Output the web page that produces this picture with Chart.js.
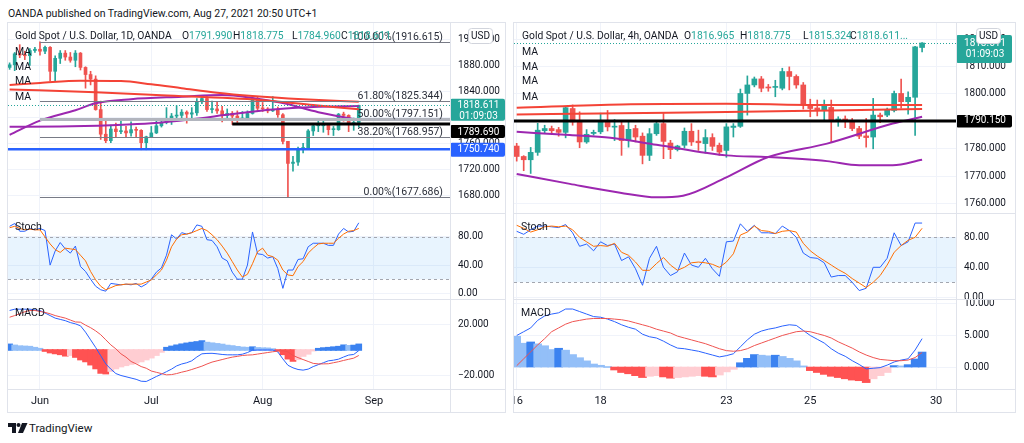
<!DOCTYPE html>
<html><head><meta charset="utf-8">
<script src="https://cdn.jsdelivr.net/npm/chart.js"></script>
<style>
html,body{margin:0;padding:0;background:#fff;width:1024px;height:443px;overflow:hidden;font-family:Roboto,"Noto Sans",sans-serif;color:#131722;}
canvas{position:absolute;}
.t{position:absolute;white-space:nowrap;font-size:10.5px;line-height:12px;color:#131722;}
.lg{font-size:10.3px;}
.v{color:#26a69a}
.frame{position:absolute;border:1px solid #e0e3eb;box-sizing:border-box;}
.hl{position:absolute;height:1px;background:#e0e3eb;}
.vl{position:absolute;width:1px;background:#e0e3eb;}
</style></head><body>
<div class="t" style="left:8px;top:8px;font-size:10.5px">OANDA published on TradingView.com, Aug 27, 2021 20:50 UTC+1</div>

<canvas id="lMain" width="497" height="190" style="left:8px;top:23px"></canvas>
<canvas id="lStoch" width="497" height="86" style="left:8px;top:213px"></canvas>
<canvas id="lMacd" width="497" height="113" style="left:8px;top:299px"></canvas>
<canvas id="rMain" width="501" height="190" style="left:514px;top:23px"></canvas>
<canvas id="rStoch" width="501" height="86" style="left:514px;top:213px"></canvas>
<canvas id="rMacd" width="501" height="113" style="left:514px;top:299px"></canvas>

<div class="frame" style="left:7px;top:22px;width:499px;height:391px"></div>
<div class="frame" style="left:513px;top:22px;width:503px;height:391px"></div>
<div class="hl" style="left:8px;top:213px;width:497px"></div>
<div class="hl" style="left:8px;top:299px;width:497px"></div>
<div class="hl" style="left:8px;top:389px;width:497px"></div>
<div class="vl" style="left:450px;top:23px;height:389px"></div>
<div class="hl" style="left:514px;top:213px;width:501px"></div>
<div class="hl" style="left:514px;top:299px;width:501px"></div>
<div class="hl" style="left:514px;top:389px;width:501px"></div>
<div class="vl" style="left:956px;top:23px;height:389px"></div>

<div class="t lg" style="left:15px;top:30px">Gold Spot / U.S. Dollar, 1D, OANDA</div>
<div class="t lg" style="left:182px;top:30px">O<span class="v">1791.990</span></div>
<div class="t lg" style="left:233px;top:30px">H<span class="v">1818.775</span></div>
<div class="t lg" style="left:292px;top:30px">L<span class="v">1784.960</span></div>
<div class="t lg" style="left:341px;top:30px">C<span class="v">1818.611</span></div>
<div class="t" style="left:15px;top:46px">MA</div>
<div class="t" style="left:15px;top:61px">MA</div>
<div class="t" style="left:15px;top:75px">MA</div>
<div class="t" style="left:15px;top:91px">MA</div>
<div class="t" style="left:15px;top:221px">Stoch</div>
<div class="t" style="left:15px;top:307px">MACD</div>

<div class="t lg" style="left:522px;top:30px">Gold Spot / U.S. Dollar, 4h, OANDA</div>
<div class="t lg" style="left:684px;top:30px">O<span class="v">1816.965</span></div>
<div class="t lg" style="left:740px;top:30px">H<span class="v">1818.775</span></div>
<div class="t lg" style="left:803px;top:30px">L<span class="v">1815.324</span></div>
<div class="t lg" style="left:850px;top:30px">C<span class="v">1818.611...</span></div>
<div class="t" style="left:522px;top:46px">MA</div>
<div class="t" style="left:522px;top:61px">MA</div>
<div class="t" style="left:522px;top:75px">MA</div>
<div class="t" style="left:522px;top:91px">MA</div>
<div class="t" style="left:521px;top:221px">Stoch</div>
<div class="t" style="left:521px;top:307px">MACD</div>

<svg style="position:absolute;left:8px;top:423px" width="20" height="10" viewBox="0 0 20 10">
<path d="M0 0h8v10h-4v-6h-4z" fill="#131722"/><circle cx="10.5" cy="2" r="2" fill="#131722"/><path d="M14 0h5.5l-4.5 10h-5z" fill="#131722"/></svg>
<div class="t" style="left:29px;top:421px;font-size:11.5px;line-height:14px">TradingView</div>

<script>
// ---------------- DATA: daily (1D) ----------------
const dailyDates = ['05-24','05-25','05-26','05-27','05-28','05-31',
'06-01','06-02','06-03','06-04','06-07','06-08','06-09','06-10','06-11','06-14','06-15','06-16','06-17','06-18','06-21','06-22','06-23','06-24','06-25','06-28','06-29','06-30',
'07-01','07-02','07-05','07-06','07-07','07-08','07-09','07-12','07-13','07-14','07-15','07-16','07-19','07-20','07-21','07-22','07-23','07-26','07-27','07-28','07-29','07-30',
'08-02','08-03','08-04','08-05','08-06','08-09','08-10','08-11','08-12','08-13','08-16','08-17','08-18','08-19','08-20','08-23','08-24','08-25','08-26','08-27'];
const dailyOpen  = [1877,1881,1898,1896,1895,1903,1905,1902,1908,1871,1891,1899,1893,1888,1899,1877,1866,1859,1812,1774,1764,1782,1778,1779,1776,1781,1780,1761,1770,1776,1787,1792,1796,1802,1803,1808,1805,1807,1824,1829,1812,1813,1810,1803,1806,1802,1797,1799,1806,1829,1814,1813,1810,1812,1804,1763,1729,1731,1752,1753,1779,1787,1787,1788,1781,1781,1805,1803,1790,1791.99];
const dailyHigh  = [1884,1900,1912,1902,1906,1908,1916.615,1910,1909,1895,1903,1903,1900,1903,1900,1878,1871,1864,1825,1794,1788,1791,1795,1786,1793,1785,1781,1771,1786,1795,1795,1815,1806,1818,1812,1810,1815,1829,1834,1832,1825,1823,1817,1813,1809,1810,1809,1810,1832,1832,1823,1815,1832,1816,1806,1763,1740,1754,1760,1781,1790,1795,1794,1790,1786,1806,1808,1804,1799,1818.775];
const dailyLow   = [1874,1872,1892,1889,1880,1900,1896,1898,1856,1855,1883,1888,1885,1878,1873,1845,1850,1811,1766,1761,1761,1770,1775,1769,1771,1770,1750,1750,1770,1775,1785,1790,1789,1796,1797,1791,1799,1803,1821,1809,1807,1806,1793,1797,1789,1792,1795,1796,1805,1810,1809,1807,1809,1800,1759,1677.686,1717,1726,1745,1750,1772,1778,1777,1773,1772,1780,1794,1778,1780,1784.96];
const dailyClose = [1881,1898,1896,1895,1903,1905,1902,1908,1871,1891,1899,1893,1888,1899,1877,1866,1859,1812,1774,1764,1782,1778,1779,1776,1781,1780,1761,1770,1776,1787,1792,1796,1802,1803,1808,1805,1807,1824,1829,1812,1813,1810,1803,1806,1802,1797,1799,1806,1829,1814,1813,1810,1812,1804,1763,1729,1731,1752,1753,1779,1787,1787,1788,1781,1781,1805,1803,1790,1792,1818.611];
const dailyMonthTicks  = [6, 28, 50, 72];
const dailyMonthLabels = ['Jun', 'Jul', 'Aug', 'Sep'];
// moving averages read at sample bars: [bar index, price]
const dailyMaRedA  = [[0,1850],[6,1853],[14,1856.5],[22,1856],[28,1851],[34,1845],[41,1838],[48,1833],[58,1828],[69,1824]];
const dailyMaRedB  = [[0,1843],[17,1838.6],[30,1834],[49.5,1826.7],[60,1819],[69,1812.4]];
const dailyMaPurA  = [[0,1773],[6,1795],[13,1811],[17,1821.7],[24,1828],[34,1831.8],[42,1834.5],[48,1830],[54,1822],[61,1808],[69,1796]];
const dailyMaPurB  = [[0,1785.6],[10,1786],[20,1788],[28,1790.8],[36,1797],[44,1805],[52,1812],[60,1816],[69,1817.5]];
const dailyPriceTicks = [1680,1720,1760,1800,1840,1880,1920];
const fibLabels = ['100.00%','61.80%','50.00%','38.20%','0.00%'];
const fibPrices = [1916.615,1825.344,1797.151,1768.957,1677.686];
const fibStartBar = 6;
const dailySupport = 1750.740;
const dailyPivot = 1789.690, dailyPivotStartBar = 44;
const lastPrice = 1818.611, countdown = '01:09:03';
const dailyStochK = [95,99,88,88,92,90,92,89,40,60,72,63,57,67,38,31,20,10,5,3,14,13,12,13,12,14,9,13,20,30,36,54,83,77,86,84,86,97,95,76,75,66,50,46,30,20,20,40,87,56,55,50,52,35,7,33,33,48,49,66,71,71,71,68,68,84,92,87,88,100];
const dailyStochD = [93,95,92,90,91,90,90,80,70,62,58,64,63,62,54,46,31,19,10,5,8,11,12,13,13,13,13,16,19,26,33,47,66,77,83,84,86,89,92,89,83,76,67,57,45,33,23,27,42,59,64,54,52,47,33,26,25,38,45,57,64,70,71,71,71,78,84,88,89,92];
const dailyMacd   = [31,32,32,32,32,31.5,31,29,27,25,24,23,21.5,20.5,19,14,8,2,-4.5,-10.9,-15,-18.5,-20,-21,-22,-23,-24.5,-24.7,-22.8,-20.8,-19,-17,-15,-12.5,-11,-10,-8.5,-5.5,-3,-2.7,-2.6,-3,-3.5,-3.8,-3.8,-3.8,-3.3,-2,-0.2,0,0,0,0,-1.5,-7,-12,-14,-15.3,-15.8,-15,-13,-11.5,-10,-8.5,-8,-7.2,-5.5,-4,-3.5,-0.5];
const dailySignal = [25.7,27,28.5,30,31,31,30.2,29.5,28.4,27,26,25,23.5,22,21.8,19.5,17.5,15,12,8,4,0.9,-3,-5.6,-9,-10.9,-13,-14.3,-16.5,-17.5,-18.5,-19.5,-19.3,-18.5,-17.4,-16.5,-15.3,-14,-12.7,-11,-9.5,-8.5,-7.5,-6.5,-5.6,-5,-4.3,-4,-3.8,-3.2,-2.6,-2,-1.4,-0.9,-0.5,-1.5,-4.3,-6,-7.5,-9,-10.5,-10.9,-10.9,-10.8,-10,-9.2,-8.2,-7.3,-6.4,-4.3];
const dailyHist   = [4.4,3.6,3,2.8,2.6,1.8,1,-0.8,-2,-2.7,-3.4,-4.5,-4.0,-5.5,-7.5,-9,-11.5,-14.5,-18,-18.5,-16.5,-14.5,-13,-12,-11,-10,-9,-7.5,-6,-4,-1.5,1.8,2.8,3.7,4.5,5.2,5.8,6.3,7,5.8,5.3,4.8,4.3,3.5,3.1,2.5,2,1.8,2.2,1.6,1.4,1.3,0.7,-0.5,-3.4,-6.8,-8.6,-7.3,-4.7,-3,-0.5,1,1.5,1.8,2.2,2.6,3.7,3.3,3.5,4.4];
const stochTicks = [0, 40, 80];
const dailyMacdTicks = [-20, 20];

// ---------------- DATA: 4h ----------------
const h4Open  = [1781.0,1777.2,1776.0,1778.7,1786.6,1787.4,1787.0,1786.0,1794.7,1789.8,1782.5,1785.6,1786.2,1789.8,1787.9,1788.5,1783.0,1787.4,1784.6,1777.6,1785.5,1789.2,1782.1,1779.7,1781.3,1786.4,1782.8,1781.9,1784.1,1781.3,1779.4,1787.8,1788.2,1800.2,1803.3,1805.5,1802.4,1802.4,1802.1,1808.2,1806.4,1803.3,1796.0,1794.9,1794.2,1795.1,1790.4,1790.9,1790.4,1787.4,1784.7,1784.3,1792.3,1792.3,1794.0,1800.2,1797.2,1798.8,1816.965];
const h4High  = [1782.0,1777.5,1780.5,1789.3,1788.6,1788.3,1787.8,1795.5,1796.0,1793.5,1787.0,1786.8,1793.0,1794.0,1790.7,1790.4,1790.4,1788.6,1785.8,1787.4,1790.4,1792.9,1783.1,1781.3,1787.6,1789.2,1786.8,1787.0,1785.5,1782.1,1789.2,1789.2,1801.8,1806.6,1806.2,1806.4,1803.5,1805.0,1809.4,1809.9,1807.0,1804.2,1798.1,1797.8,1797.8,1797.8,1791.7,1792.0,1791.1,1788.2,1791.1,1798.4,1793.0,1794.9,1801.1,1805.4,1800.8,1817.4,1818.775];
const h4Low   = [1775.5,1772.0,1771.0,1777.6,1785.8,1785.6,1784.6,1784.0,1788.6,1780.4,1782.0,1785.0,1785.5,1786.5,1783.0,1777.6,1780.6,1782.5,1774.5,1775.7,1784.9,1776.4,1776.4,1779.2,1780.3,1781.2,1779.4,1778.4,1779.4,1777.6,1776.9,1784.3,1787.8,1792.3,1802.6,1800.8,1801.0,1799.0,1801.5,1801.5,1802.1,1794.5,1791.7,1792.0,1790.4,1782.5,1788.2,1787.7,1786.6,1783.7,1780.6,1780.0,1789.5,1791.7,1793.5,1794.8,1792.6,1784.9,1815.324];
const h4Close = [1777.2,1776.0,1778.7,1786.8,1787.4,1786.6,1786.0,1795.0,1789.8,1782.5,1785.3,1786.0,1789.8,1788.0,1788.2,1783.0,1787.1,1784.3,1777.6,1785.5,1789.2,1782.7,1779.7,1781.0,1786.4,1782.5,1782.2,1784.1,1780.9,1778.8,1788.0,1788.3,1800.2,1803.3,1805.5,1802.1,1802.2,1802.6,1808.2,1806.4,1803.3,1796.0,1794.7,1794.3,1796.0,1790.4,1790.9,1790.2,1787.4,1784.6,1784.1,1792.3,1791.7,1794.1,1800.2,1797.2,1798.8,1817.2,1818.611];
const h4DayTicks  = [0, 12, 30, 42, 60];
const h4DayLabels = ['16', '18', '23', '25', '30'];
const h4MaRedA = [[0,1795],[15,1796.2],[30,1796.4],[45,1796],[58,1796]];
const h4MaRedB = [[0,1792.5],[15,1793],[30,1793.4],[45,1794],[58,1794.5]];
const h4MaPurA = [[0,1786.2],[7.6,1785],[13.4,1784],[20,1781.5],[30,1777.6],[36,1777],[44.4,1775.5],[49,1774],[53.8,1774],[58,1776]];
const h4MaPurB = [[0,1770.8],[7.6,1767.2],[14.8,1764],[20,1762.3],[23.8,1762.9],[30,1769.6],[36,1777],[44.4,1781.9],[53.8,1789.2],[58,1791.7]];
const h4PriceTicks = [1760,1770,1780,1790,1800,1810,1820];
const h4Pivot = 1790.150;
const h4StochK = [88,84,90,95,95,94,93,97,86,68,71,62,74,69,71,49,54,38,16,52,68,40,29,34,59,43,40,52,38,28,74,75,98,88,96,86,86,85,95,89,80,59,53,52,46,27,29,29,20,9,12,40,40,52,86,69,74,99,99];
const h4StochD = [96,92,87,90,94,95,94,95,90,80,74,68,69,68,72,60,56,47,36,36,45,53,43,36,40,46,47,46,44,40,47,58,83,87,95,89,88,85,88,89,87,72,62,55,49,43,37,32,25,19,13,20,29,43,60,69,76,80,92];
const h4Macd   = [5.0,5.6,6.2,7.4,8.1,8.4,8.6,9.2,9.2,8.8,8.4,8.0,7.9,7.6,7.2,6.7,6.3,6.0,5.2,4.8,4.6,4.1,3.5,3.0,2.9,2.7,2.5,2.2,1.9,1.6,1.8,2.1,3.2,4.3,5.2,5.7,6.0,6.2,6.5,6.7,6.6,5.8,5.0,4.4,3.8,2.9,2.2,1.7,1.0,0.4,-0.3,-0.2,-0.1,0.3,0.8,1.1,1.3,2.7,4.5];
const h4Signal = [0.2,1.3,2.4,3.5,4.5,5.6,6.2,6.8,7.2,7.4,7.6,7.7,7.7,7.7,7.6,7.5,7.3,7.0,6.7,6.4,6.0,5.7,5.4,4.9,4.6,4.3,4.0,3.7,3.3,2.9,2.6,2.5,2.6,2.9,3.4,3.8,4.2,4.6,5.0,5.3,5.6,5.7,5.6,5.3,5.0,4.6,4.0,3.5,3.0,2.4,1.9,1.5,1.2,1.1,1.0,1.0,1.1,1.5,2.3];
const h4Hist   = [4.8,3.7,3.9,3.6,3.3,2.7,2.9,2.6,1.9,1.4,0.9,0.4,0.2,0,-0.4,-0.8,-1.0,-1.3,-1.6,-1.4,-1.3,-1.5,-1.7,-1.6,-1.5,-1.4,-1.3,-1.4,-1.5,-1.2,-0.7,-0.3,0.6,1.3,1.9,1.8,1.7,1.8,1.6,1.3,0.9,0.1,-0.5,-0.8,-1.1,-1.4,-1.6,-1.8,-2.0,-2.1,-2.4,-1.8,-1.3,-0.8,0.15,0.1,0.3,1.2,2.3];
const h4MacdTicks = [0, 5, 10];

// ---------------- STYLE / HELPERS ----------------
const FONT = 'Roboto, "Noto Sans", sans-serif';
const TXT = '#131722', GRID = '#f0f3fa', UP = '#26a69a', DN = '#ef5350';
const RED_MA = '#f44336', PUR_MA = '#9c27b0';
const K_COL = '#2962ff', D_COL = '#ff6d00', SIG_COL = '#ef5350';
const H_UP = '#3b82f0', H_UPW = '#93bff8', H_DN = '#ff5252', H_DNW = '#ffcdd2';
const el = id => document.getElementById(id);

function xScale(min, max, ticks, labels, show) {
  return {
    type: 'linear', position: 'bottom', min, max, offset: false, bounds: 'data',
    grid: { color: GRID, drawTicks: false, offset: false },
    border: { display: false },
    ticks: { display: show, padding: 6, color: TXT, font: { family: FONT, size: 11 }, maxRotation: 0, autoSkip: false,
      callback: v => { const i = ticks.indexOf(v); return i < 0 ? '' : labels[i]; } },
    afterBuildTicks: s => { s.ticks = ticks.map(v => ({ value: v })); },
    afterFit: s => { s.height = show ? 23 : 0; s.paddingLeft = 0; s.paddingRight = 0; }
  };
}
function yScale(min, max, ticks, fmt, width) {
  return {
    type: 'linear', position: 'right', min, max, bounds: 'data',
    grid: { color: GRID, drawTicks: false },
    border: { display: false },
    ticks: { padding: 8, color: TXT, font: { family: FONT, size: 10 }, callback: v => fmt(v) },
    afterBuildTicks: s => { s.ticks = ticks.map(v => ({ value: v })); },
    afterFit: s => { s.width = width; s.paddingTop = 0; s.paddingBottom = 0; }
  };
}
function opts(xs, ys) {
  return { responsive: false, maintainAspectRatio: false, animation: false, devicePixelRatio: 1, events: [],
    layout: { padding: 0 }, plugins: { legend: { display: false }, tooltip: { enabled: false } }, scales: { x: xs, y: ys } };
}
function candleSets(o, h, l, c, bodyW) {
  const col = c.map((v, i) => v >= o[i] ? UP : DN);
  return [
    { type: 'bar', data: h.map((v, i) => ({ x: i, y: [l[i], v] })), backgroundColor: col, barThickness: 1, grouped: false, order: 5 },
    { type: 'bar', data: o.map((v, i) => ({ x: i, y: [Math.min(v, c[i]), Math.max(v, c[i])] })), backgroundColor: col, barThickness: bodyW, grouped: false, minBarLength: 1, order: 4 }
  ];
}
function maSet(pts, color) {
  return { type: 'line', data: pts.map(([x, y]) => ({ x, y })), borderColor: color, borderWidth: 2, pointRadius: 0, cubicInterpolationMode: 'monotone', fill: false, order: 1 };
}
function lineSet(vals, color) {
  return { type: 'line', data: vals.map((y, x) => ({ x, y })), borderColor: color, borderWidth: 1, pointRadius: 0, tension: 0, fill: false, order: 1 };
}
function histSet(vals, firstRising) {
  const col = vals.map((v, i) => {
    const p = i === 0 ? (firstRising ? -Infinity : Infinity) : vals[i - 1];
    if (v >= 0) return v >= p ? H_UP : H_UPW;
    return v < p ? H_DN : H_DNW;
  });
  return { type: 'bar', data: vals.map((y, x) => ({ x, y })), backgroundColor: col, borderWidth: 0, inflateAmount: 0.8,
    barPercentage: 1, categoryPercentage: 1, grouped: false, order: 3 };
}
function hLine(ctx, x0, x1, y, color, w, dash) {
  ctx.save(); ctx.strokeStyle = color; ctx.lineWidth = w; ctx.setLineDash(dash || []);
  ctx.beginPath(); ctx.moveTo(x0, y); ctx.lineTo(x1, y); ctx.stroke(); ctx.restore();
}
function rrect(ctx, x, y, w, h, r) {
  ctx.beginPath(); ctx.moveTo(x + r, y); ctx.lineTo(x + w - r, y); ctx.quadraticCurveTo(x + w, y, x + w, y + r);
  ctx.lineTo(x + w, y + h - r); ctx.quadraticCurveTo(x + w, y + h, x + w - r, y + h); ctx.lineTo(x + r, y + h);
  ctx.quadraticCurveTo(x, y + h, x, y + h - r); ctx.lineTo(x, y + r); ctx.quadraticCurveTo(x, y, x + r, y); ctx.closePath();
}
function tag(ctx, x, y, w, h, bg, lines, ys) {
  ctx.save(); ctx.fillStyle = bg; rrect(ctx, x, y, w, h, 2); ctx.fill();
  ctx.fillStyle = '#fff'; ctx.font = '10px ' + FONT; ctx.textAlign = 'center'; ctx.textBaseline = 'middle';
  lines.forEach((t, i) => ctx.fillText(t, x + w / 2 + 1, ys[i]));
  ctx.restore();
}
function usdBox(ctx, x, y) {
  ctx.save(); ctx.fillStyle = '#fff'; ctx.strokeStyle = '#d1d4dc'; ctx.lineWidth = 1;
  rrect(ctx, x + 0.5, y + 0.5, 24, 15, 3); ctx.fill(); ctx.stroke();
  ctx.fillStyle = TXT; ctx.font = '10px ' + FONT; ctx.textAlign = 'center'; ctx.textBaseline = 'middle';
  ctx.fillText('USD', x + 12.5, y + 8.5); ctx.restore();
}
function clipArea(ctx, a) { ctx.save(); ctx.beginPath(); ctx.rect(a.left, a.top, a.right - a.left, a.bottom - a.top); ctx.clip(); }
const stochBand = {
  id: 'stochBand',
  beforeDatasetsDraw(c) {
    const { ctx, chartArea: a, scales: { y } } = c;
    const y80 = y.getPixelForValue(80), y20 = y.getPixelForValue(20);
    ctx.save(); ctx.fillStyle = 'rgba(33,150,243,0.1)'; ctx.fillRect(a.left, y80, a.right - a.left, y20 - y80); ctx.restore();
    hLine(ctx, a.left, a.right, Math.round(y80) + 0.5, '#a3a6af', 1, [3, 3]);
    hLine(ctx, a.left, a.right, Math.round(y20) + 0.5, '#a3a6af', 1, [3, 3]);
  }
};
const fmtP = v => v.toFixed(3);
const fmtS = v => v.toFixed(2);
const fmtM = v => (v < 0 ? '\u2212' : '') + Math.abs(v).toFixed(3);

// ---------------- LEFT (1D) ----------------
const LX = [-0.32, 87.03];
new Chart(el('lMain'), {
  type: 'bar',
  data: { datasets: [...candleSets(dailyOpen, dailyHigh, dailyLow, dailyClose, 3),
    maSet(dailyMaRedA, RED_MA), maSet(dailyMaRedB, RED_MA), maSet(dailyMaPurA, PUR_MA), maSet(dailyMaPurB, PUR_MA)] },
  options: opts(xScale(LX[0], LX[1], dailyMonthTicks, dailyMonthLabels, false), yScale(1652.56, 1945.45, dailyPriceTicks, fmtP, 55)),
  plugins: [{
    id: 'lMainDraw',
    afterDatasetsDraw(c) {
      const { ctx, chartArea: a, scales: { x, y } } = c;
      clipArea(ctx, a);
      hLine(ctx, a.left, a.right, y.getPixelForValue(dailySupport), '#2962ff', 2.5);
      const fx = x.getPixelForValue(fibStartBar);
      fibPrices.forEach((p, i) => {
        const py = Math.round(y.getPixelForValue(p)) + 0.5;
        if (i === 2) hLine(ctx, fx, a.right, py, '#b2b5be', 3); else hLine(ctx, fx, a.right, py, '#787b86', 1);
        ctx.font = '10.5px ' + FONT; ctx.fillStyle = '#2a2e39'; ctx.textAlign = 'right'; ctx.textBaseline = 'middle';
        ctx.fillText(fibLabels[i] + '(' + p.toFixed(3) + ')', a.right - 7, py - 5.5);
      });
      hLine(ctx, x.getPixelForValue(dailyPivotStartBar), a.right, y.getPixelForValue(dailyPivot), '#000', 3);
      hLine(ctx, a.left, a.right, Math.round(y.getPixelForValue(lastPrice)) + 0.5, UP, 1, [1, 2]);
      ctx.restore();
    },
    afterDraw(c) {
      const { ctx, chartArea: a, scales: { y } } = c;
      const ax = a.right, W = 55;
      const pb = y.getPixelForValue(dailySupport);
      tag(ctx, ax, pb - 6.5, W, 14, '#2962ff', [dailySupport.toFixed(3)], [pb + 0.5]);
      const pk = y.getPixelForValue(dailyPivot);
      tag(ctx, ax, pk + 1, W, 13, '#000', [dailyPivot.toFixed(3)], [pk + 8]);
      const pl = y.getPixelForValue(lastPrice);
      tag(ctx, ax, pl - 6.5, W, 22, UP, [lastPrice.toFixed(3), countdown], [pl + 0.5, pl + 11.5]);
      usdBox(ctx, ax + 18, 5);
    }
  }]
});
new Chart(el('lStoch'), {
  type: 'line',
  data: { datasets: [lineSet(dailyStochD, D_COL), lineSet(dailyStochK, K_COL)] },
  options: opts(xScale(LX[0], LX[1], dailyMonthTicks, dailyMonthLabels, false), yScale(-8.09, 113.9, stochTicks, fmtS, 55)),
  plugins: [stochBand]
});
new Chart(el('lMacd'), {
  type: 'bar',
  data: { datasets: [histSet(dailyHist, true), lineSet(dailySignal, SIG_COL), lineSet(dailyMacd, K_COL)] },
  options: opts(xScale(LX[0], LX[1], dailyMonthTicks, dailyMonthLabels, true), yScale(-30.6, 40, dailyMacdTicks, fmtM, 55))
});

// ---------------- RIGHT (4h) ----------------
const RX = [-0.386, 62.85];
new Chart(el('rMain'), {
  type: 'bar',
  data: { datasets: [...candleSets(h4Open, h4High, h4Low, h4Close, 5),
    maSet(h4MaRedA, RED_MA), maSet(h4MaRedB, RED_MA), maSet(h4MaPurA, PUR_MA), maSet(h4MaPurB, PUR_MA)] },
  options: opts(xScale(RX[0], RX[1], h4DayTicks, h4DayLabels, false), yScale(1756.57, 1825.91, h4PriceTicks, fmtP, 59)),
  plugins: [{
    id: 'rMainDraw',
    afterDatasetsDraw(c) {
      const { ctx, chartArea: a, scales: { y } } = c;
      clipArea(ctx, a);
      hLine(ctx, a.left, a.right, y.getPixelForValue(h4Pivot), '#000', 3);
      hLine(ctx, a.left, a.right, Math.round(y.getPixelForValue(lastPrice)) + 0.5, UP, 1, [1, 2]);
      ctx.restore();
    },
    afterDraw(c) {
      const { ctx, chartArea: a, scales: { y } } = c;
      const ax = a.right, W = 56;
      const pk = y.getPixelForValue(h4Pivot);
      tag(ctx, ax, pk - 6, W, 12.5, '#000', [h4Pivot.toFixed(3)], [pk]);
      const pl = y.getPixelForValue(lastPrice);
      tag(ctx, ax, pl - 8, W, 28, UP, [lastPrice.toFixed(3), countdown], [pl + 0.5, pl + 11.5]);
      usdBox(ctx, ax + 20, 5);
    }
  }]
});
new Chart(el('rStoch'), {
  type: 'line',
  data: { datasets: [lineSet(h4StochD, D_COL), lineSet(h4StochK, K_COL)] },
  options: opts(xScale(RX[0], RX[1], h4DayTicks, h4DayLabels, false), yScale(-2.27, 112.4, stochTicks, fmtS, 59)),
  plugins: [stochBand]
});
new Chart(el('rMacd'), {
  type: 'bar',
  data: { datasets: [histSet(h4Hist, false), lineSet(h4Signal, SIG_COL), lineSet(h4Macd, K_COL)] },
  options: opts(xScale(RX[0], RX[1], h4DayTicks, h4DayLabels, true), yScale(-3.49, 10.79, h4MacdTicks, fmtM, 59))
});
</script>
</body></html>
